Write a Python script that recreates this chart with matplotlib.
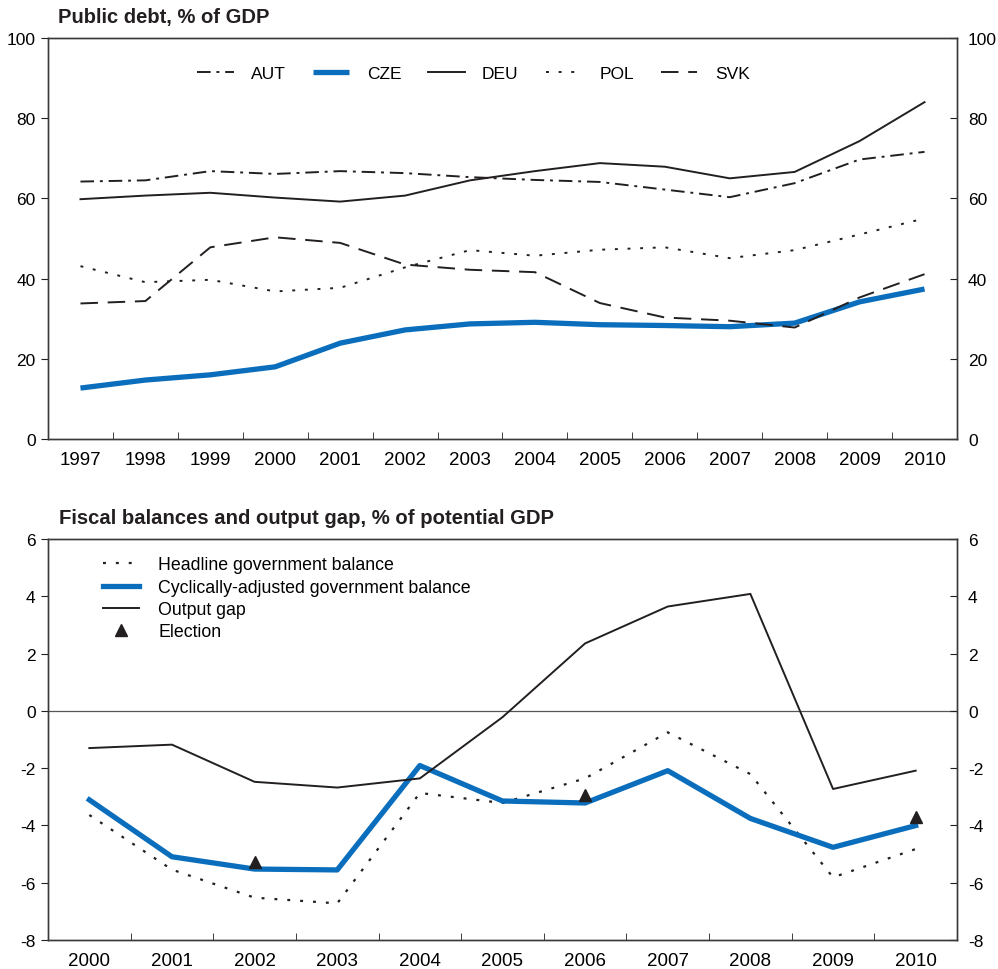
import numpy as np
import matplotlib.pyplot as plt
from matplotlib.lines import Line2D

plt.rcParams['font.family'] = ['Liberation Sans', 'DejaVu Sans']
plt.rcParams['axes.unicode_minus'] = False

BLUE = '#0a6ebd'
DARK = '#231f20'

# top panel data
years_top = [str(y) for y in range(1997, 2011)]
aut = [64.2, 64.5, 66.8, 66.1, 66.8, 66.3, 65.3, 64.6, 64.1, 62.2, 60.3, 63.8, 69.7, 71.6]
cze = [12.7, 14.7, 16.0, 18.0, 23.9, 27.2, 28.7, 29.1, 28.5, 28.3, 28.0, 28.9, 34.2, 37.4]
deu = [59.8, 60.7, 61.4, 60.2, 59.2, 60.7, 64.5, 66.8, 68.8, 67.9, 65.0, 66.6, 74.3, 84.0]
pol = [43.1, 39.1, 39.7, 36.8, 37.7, 42.8, 47.1, 45.7, 47.2, 47.8, 45.1, 47.1, 51.0, 55.0]
svk = [33.8, 34.4, 47.8, 50.3, 48.9, 43.5, 42.2, 41.6, 33.9, 30.3, 29.5, 27.8, 35.3, 41.1]

# bottom panel data
years_bot = [str(y) for y in range(2000, 2011)]
headline = [-3.64, -5.55, -6.53, -6.73, -2.87, -3.22, -2.36, -0.75, -2.21, -5.82, -4.83]
cab = [-3.11, -5.10, -5.53, -5.56, -1.91, -3.15, -3.22, -2.09, -3.76, -4.77, -4.01]
gap = [-1.30, -1.18, -2.48, -2.68, -2.36, -0.22, 2.36, 3.65, 4.09, -2.73, -2.09]
election_years = ['2002', '2006', '2010']
election_vals = [-5.27, -2.94, -3.72]


def style_axes(ax, labels, ylim, yticks):
    n = len(labels)
    ax.set_xlim(-0.5, n - 0.5)
    ax.set_ylim(*ylim)
    ax.set_xticks(range(n))
    ax.set_xticklabels(labels, fontsize=13.5)
    ax.set_xticks(np.arange(0.5, n - 1, 1), minor=True)
    ax.tick_params(axis='x', which='major', length=0, pad=9)
    ax.tick_params(axis='x', which='minor', length=5, direction='in', color=DARK)
    ax.set_yticks(yticks)
    ax.tick_params(axis='y', length=5, labelsize=12.5, color=DARK, direction='out', pad=4)
    for s in ax.spines.values():
        s.set_color('#3a3a3a')
        s.set_linewidth(1.0)
    # right hand scale, ticks pointing in
    axr = ax.twinx()
    axr.set_ylim(*ylim)
    axr.set_yticks(yticks)
    axr.tick_params(axis='y', length=5, labelsize=12.5, color=DARK, direction='in', pad=8)
    for s in axr.spines.values():
        s.set_color('#3a3a3a')
        s.set_linewidth(1.0)


fig = plt.figure(figsize=(9.98, 9.70), dpi=100)

# Public debt
ax1 = fig.add_axes([0.0481, 0.5464, 0.9108, 0.4134])
x1 = np.arange(len(years_top))
ax1.plot(x1, aut, color=DARK, lw=1.4, dashes=(7, 3, 1.5, 3), label='AUT')
ax1.plot(x1, cze, color=BLUE, lw=3.8, label='CZE', solid_capstyle='butt')
ax1.plot(x1, deu, color=DARK, lw=1.4, label='DEU')
ax1.plot(x1, pol, color=DARK, lw=1.4, dashes=(1.5, 5), label='POL')
ax1.plot(x1, svk, color=DARK, lw=1.4, dashes=(9, 5), label='SVK')
ax1.legend(loc='upper center', bbox_to_anchor=(0.468, 0.97), ncol=5, frameon=False,
           fontsize=12.5, handlelength=2.1, handletextpad=1.0, columnspacing=1.55)
style_axes(ax1, years_top, (0, 100), range(0, 101, 20))
fig.text(0.058, 0.982, 'Public debt, % of GDP', fontsize=14.5, fontweight='bold',
         va='center', color=DARK)

# Fiscal balances and output gap
ax2 = fig.add_axes([0.0481, 0.0302, 0.9108, 0.4128])
x2 = np.arange(len(years_bot))
ax2.axhline(0, color='#555555', lw=0.9)
ax2.plot(x2, headline, color=DARK, lw=1.6, dashes=(1.3, 4.5))
ax2.plot(x2, cab, color=BLUE, lw=3.8)
ax2.plot(x2, gap, color=DARK, lw=1.4)
ex = [years_bot.index(y) for y in election_years]
ax2.plot(ex, election_vals, ls='none', marker='^', ms=8, color=DARK)
handles = [
    Line2D([], [], color=DARK, lw=1.6, dashes=(1.3, 4.5)),
    Line2D([], [], color=BLUE, lw=3.8),
    Line2D([], [], color=DARK, lw=1.4),
    Line2D([], [], ls='none', marker='^', ms=8, color=DARK),
]
ax2.legend(handles, ['Headline government balance', 'Cyclically-adjusted government balance',
                     'Output gap', 'Election'],
           loc='upper left', bbox_to_anchor=(0.043, 0.997), frameon=False, fontsize=12.8,
           handlelength=2.0, handletextpad=1.1, labelspacing=0.3)
style_axes(ax2, years_bot, (-8, 6), range(-8, 7, 2))
fig.text(0.059, 0.465, 'Fiscal balances and output gap, % of potential GDP', fontsize=14.6,
         fontweight='bold', va='center', color=DARK)

fig.savefig('out.png', dpi=100)
